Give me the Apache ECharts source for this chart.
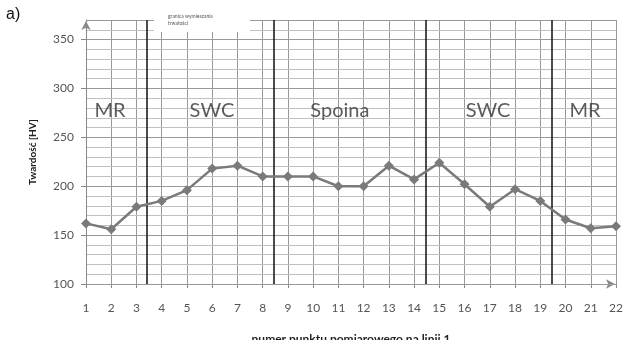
<!DOCTYPE html>
<html>
<head>
<meta charset="utf-8">
<script src="https://cdn.jsdelivr.net/npm/echarts@6/dist/echarts.min.js"></script>
<style>html,body{margin:0;padding:0;background:#fff;}#chart{width:623px;height:340px;}</style>
</head>
<body>
<div id="chart"></div>
<script>
// Data
var points = [1,2,3,4,5,6,7,8,9,10,11,12,13,14,15,16,17,18,19,20,21,22];
var hardness = [162,156,179,185,196,218,221,210,210,210,200,200,221,207,224,202,179,197,185,166,157,159];
var zoneBoundaries = [3.42, 8.42, 14.46, 19.47];
var zoneNames = ['MR','SWC','Spoina','SWC','MR'];
var zoneLabelX = [1.95, 5.99, 11.06, 16.93, 20.77];
var zoneLabelY = 277;
var yTickLabels = [100,150,200,250,300,350];

var FONT = 'Lato, "Open Sans", sans-serif';
var chart = echarts.init(document.getElementById('chart'), null, {renderer:'canvas'});

chart.setOption({
  animation: false,
  backgroundColor: '#fff',
  grid: {left: 86, right: 7, top: 20, bottom: 56, containLabel: false, outerBoundsMode: 'none'},
  xAxis: {
    type: 'value', min: 1, max: 22, interval: 1,
    name: 'numer punktu pomiarowego na linii 1',
    nameLocation: 'middle', nameGap: 49,
    nameTextStyle: {fontFamily: FONT, fontSize: 12, fontWeight: 'bold', color: '#222'},
    axisLine: {show: true, symbol: ['none','arrow'], symbolSize: [7,9], symbolOffset: [0,-1], lineStyle: {color: '#888', width: 1}},
    axisTick: {show: true, length: 4, lineStyle: {color: '#888'}},
    axisLabel: {fontFamily: FONT, fontSize: 12, color: '#555', margin: 18},
    splitLine: {show: true, lineStyle: {color: '#999', width: 1}}
  },
  yAxis: [{
    type: 'value', min: 100, max: 370, interval: 50,
    name: 'Twardość [HV]',
    nameLocation: 'middle', nameGap: 48, nameRotate: 90,
    nameTextStyle: {fontFamily: FONT, fontSize: 10, fontWeight: 'bold', color: '#222'},
    axisLine: {show: true, symbol: ['none','arrow'], symbolSize: [7,9], symbolOffset: [0,-1], lineStyle: {color: '#888', width: 1}},
    axisTick: {show: true, length: 5, lineStyle: {color: '#888'}},
    axisLabel: {fontFamily: FONT, fontSize: 12, color: '#555', margin: 12, showMaxLabel: false,
      formatter: function(v){ return yTickLabels.indexOf(v) >= 0 ? String(v) : ''; }},
    splitLine: {show: true, lineStyle: {color: '#999', width: 1}},
    z: 3
  }, {
    type: 'value', min: 100, max: 370, interval: 10, position: 'left',
    axisLine: {show: false}, axisTick: {show: false}, axisLabel: {show: false},
    splitLine: {show: true, lineStyle: {color: '#c0c0c0', width: 1}},
    z: 1
  }],
  series: [{
    type: 'line',
    data: points.map(function(p,i){ return [p, hardness[i]]; }),
    symbol: 'diamond', symbolSize: 10,
    lineStyle: {color: '#7a7a7a', width: 2.5},
    itemStyle: {color: '#7a7a7a'},
    z: 5,
    markLine: {
      silent: true, symbol: ['none','none'], label: {show: false},
      lineStyle: {color: '#1e1e1e', width: 1.6, type: 'solid'},
      data: zoneBoundaries.map(function(b){ return {xAxis: b}; })
    }
  }, {
    type: 'scatter',
    symbolSize: 0,
    data: zoneNames.map(function(n,i){ return {value: [zoneLabelX[i], zoneLabelY], name: n}; }),
    label: {show: true, position: 'inside', formatter: '{b}', fontFamily: FONT, fontSize: 20, color: '#333'},
    z: 6
  }],
  graphic: [
    {type: 'text', left: 6, top: 7, style: {text: 'a)', fontFamily: '"Liberation Sans", Arial, sans-serif', fontSize: 16, fill: '#111'}},
    {type: 'rect', shape: {x: 154, y: 3, width: 96, height: 29}, style: {fill: '#fff'}, z: 100},
    {type: 'text', left: 168, top: 13, z: 101, style: {text: 'granica wymieszania\ntrwałości', fontFamily: FONT, fontSize: 5, lineHeight: 7, fill: '#555'}}
  ]
});
</script>
</body>
</html>
